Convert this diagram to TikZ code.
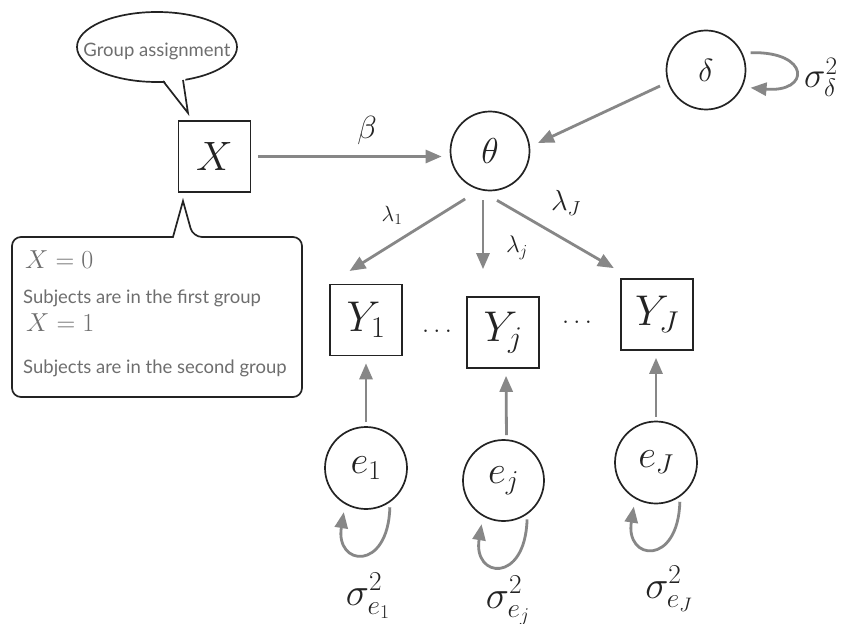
\RequirePackage{fix-cm}
\documentclass[tikz,border=0pt]{standalone}
\usepackage{fontspec}
\setsansfont{Lato}
\usetikzlibrary{arrows.meta,calc,shapes.geometric}
\definecolor{lgray}{RGB}{135,135,135}
\definecolor{tgray}{RGB}{110,110,110}
\definecolor{ink}{RGB}{35,35,35}
\begin{document}
\begin{tikzpicture}[x=1pt,y=-1pt,
  arr/.style={draw=lgray, line width=2.8pt, -{Triangle[length=16pt,width=13pt]}},
  circ/.style={circle, draw=ink, line width=1.7pt, minimum size=80pt, inner sep=0pt, text=ink},
  sq/.style={rectangle, draw=ink, line width=1.7pt, minimum width=72pt, minimum height=71pt, inner sep=0pt, text=ink},
  lab/.style={inner sep=0pt, text=ink},
  note/.style={inner sep=0pt, text=tgray, font=\sffamily\fontsize{18.5}{18.5}\selectfont},
  outl/.style={draw=ink, line width=1.7pt}
]
\useasboundingbox (0,0) rectangle (842,623);
\fill[white] (0,0) rectangle (842,623);

% speech bubble
\node[ellipse, outl, fill=white, minimum width=160pt, minimum height=70pt, inner sep=0pt] (bub) at (157,47) {};
\fill[white] (161,76) -- (188,113) -- (185,75) -- cycle;
\draw[outl, line join=miter] (163,81) -- (188,113) -- (183,80);
\node[note, anchor=base] (gtxt) at (157,57) {Group assignment};

% X box
\node[sq] (X) at (214.5,156.5) {\fontsize{41}{41}\selectfont$X$};

% callout box
\draw[outl] (100,237) [rounded corners=9pt] -- (12,237) -- (12,397) -- (302,397) -- (302,237) -- (193,237) [sharp corners] -- (183,201) -- (173,237) -- cycle;
\node[lab, anchor=west, text=tgray] (c0) at (25,259.5) {\fontsize{26}{26}\selectfont$X=0$};
\node[note, anchor=base west] (c1) at (23,303) {Subjects are in the first group};
\node[lab, anchor=west, text=tgray] (c2) at (26,322.5) {\fontsize{26}{26}\selectfont$X=1$};
\node[note, anchor=base west] (c3) at (23,373) {Subjects are in the second group};

% latent nodes
\node[circ, minimum size=79pt] (theta) at (490,151) {\fontsize{36}{36}\selectfont$\theta$};
\node[circ, minimum size=79pt] (delta) at (706,70) {\fontsize{32}{32}\selectfont$\delta$};
\node[lab, anchor=west] (sd) at (804,77) {\fontsize{36}{36}\selectfont$\sigma_\delta^2$};

% indicators
\node[sq] (Y1) at (366,320) {\fontsize{43}{43}\selectfont$Y_1$};
\node[sq] (Yj) at (503,332.5) {\fontsize{43}{43}\selectfont$Y_j$};
\node[sq] (YJ) at (657,314.5) {\fontsize{43}{43}\selectfont$Y_J$};
\node[lab] (d1) at (437,331) {\fontsize{26}{26}\selectfont$\ldots$};
\node[lab] (d2) at (577,322) {\fontsize{26}{26}\selectfont$\ldots$};

% errors
\node[circ, minimum size=82pt] (e1) at (366,468) {\fontsize{39}{39}\selectfont$e_1$};
\node[circ, minimum size=81pt] (ej) at (503.5,480.5) {\fontsize{39}{39}\selectfont$e_j$};
\node[circ, minimum size=82pt] (eJ) at (656,462.5) {\fontsize{39}{39}\selectfont$e_J$};
\node[lab, anchor=base] (s1) at (368,605) {\fontsize{39}{39}\selectfont$\sigma_{e_1}^2$};
\node[lab, anchor=base] (sj) at (508,608) {\fontsize{39}{39}\selectfont$\sigma_{e_j}^2$};
\node[lab, anchor=base] (sJ) at (669,598) {\fontsize{39}{39}\selectfont$\sigma_{e_J}^2$};

% path labels
\node[lab] (lb) at (367,130) {\fontsize{32}{32}\selectfont$\beta$};
\node[lab] (l1) at (392,215.5) {\fontsize{22}{22}\selectfont$\lambda_1$};
\node[lab] (lj) at (517,248) {\fontsize{24}{24}\selectfont$\lambda_j$};
\node[lab] (lJ) at (566,203) {\fontsize{29}{29}\selectfont$\lambda_J$};

% connectors
\draw[arr, shorten <=7pt, shorten >=8pt] (X.east) -- (X.east -| theta.west);
\draw[arr] ($(delta)+(-46,16)$) -- ($(theta)+(48,-8)$);
\draw[arr, shorten <=17pt, shorten >=24pt] (theta.-105) -- (Y1.north west);
\draw[arr, shorten <=9pt, shorten >=27pt] ([xshift=-7pt]theta.south) -- ([xshift=-7pt]theta.south |- Yj.north);
\draw[arr, shorten >=20pt] ($(theta.south)+(7,9)$) -- ($(YJ.north west)+(11,0)$);

\draw[arr, shorten <=4pt, shorten >=7pt] (e1.north) -- (Y1.south);
\draw[arr, shorten <=4pt, shorten >=7pt] ([xshift=3pt]ej.north) -- ([xshift=3pt]Yj.south);
\draw[arr, shorten <=4pt, shorten >=7pt] (eJ.north) -- (eJ.north |- YJ.south);

% variance loops
\draw[arr, shorten <=8pt, shorten >=8pt] (delta.25) .. controls +(68,-2) and +(68,6) .. (delta.-25);
\draw[arr, shorten <=5pt, shorten >=8pt] (e1.-55) .. controls +(-2,70) and +(-10,62) .. (e1.-120);
\draw[arr, shorten <=5pt, shorten >=8pt] (ej.-55) .. controls +(-2,70) and +(-10,62) .. (ej.-120);
\draw[arr, shorten <=5pt, shorten >=8pt] (eJ.-55) .. controls +(-2,70) and +(-10,62) .. (eJ.-120);
\end{tikzpicture}
\end{document}
